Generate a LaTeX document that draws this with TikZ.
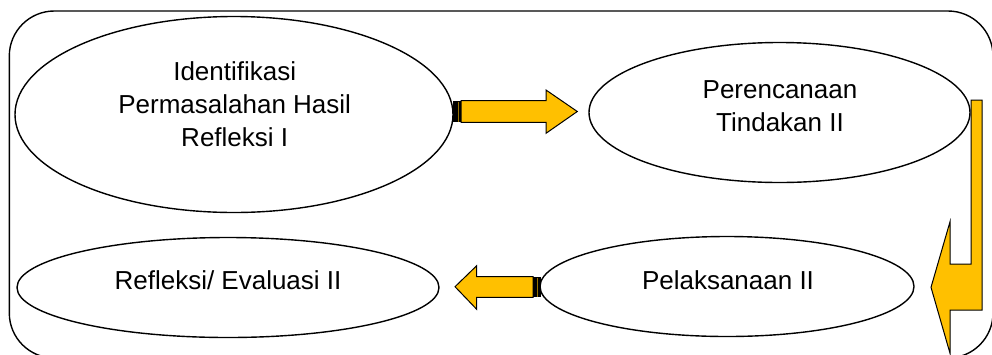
\documentclass[tikz,border=0pt]{standalone}
\usepackage{fontspec}
\setmainfont{Liberation Sans}
\usetikzlibrary{shapes.geometric}
\definecolor{arrowyellow}{HTML}{FFC000}
\begin{document}
\begin{tikzpicture}[x=1pt,y=-1pt,
  oval/.style={draw,ellipse,line width=1.4pt,inner sep=0pt},
  lbl/.style={align=center,font=\fontsize{26}{33}\selectfont,inner sep=0pt},
  blockarrow/.style={fill=arrowyellow,draw=black,line width=1pt,line join=miter},
  band/.style={fill=black}]
\useasboundingbox (0,0) rectangle (992,354);
\begin{scope}
\clip (0,0) rectangle (992,354);
\draw[line width=1.4pt, rounded corners=45pt] (9.3,11) rectangle (993,358);
\end{scope}
% ellipses
\node[oval,minimum width=438pt,minimum height=196pt] (e1) at (234,114.5) {};
\node[oval,minimum width=381pt,minimum height=140pt] (e2) at (779.5,112.5) {};
\node[oval,minimum width=422pt,minimum height=100pt] (e3) at (228,287.5) {};
\node[oval,minimum width=374pt,minimum height=100pt] (e4) at (727,286.5) {};
% labels
\node[lbl] (t1) at (234.7,104.5) {Identifikasi\\Permasalahan Hasil\\Refleksi I};
\node[lbl] (t2) at (780,106) {Perencanaan\\Tindakan II};
\node[lbl,anchor=base] (t3) at (228,289) {Refleksi/ Evaluasi II};
\node[lbl,anchor=base] (t4) at (728,289) {Pelaksanaan II};
% arrow 1 (right)
\draw[blockarrow] (461,100.7) -- (546,100.7) -- (546,90) -- (577.3,111.5) -- (546,133.3) -- (546,122.3) -- (461,122.3) -- cycle;
\fill[band] (452.7,100.7) rectangle (460.7,122.3);
\draw[arrowyellow!60!black,line width=0.8pt] (457.9,101.5) -- (457.9,121.5);
% arrow 2 (bent)
\draw[blockarrow] (971,100) -- (982,100) -- (982,310) -- (950,310) -- (950,353.3) -- (931,287.3) -- (950,221.7) -- (950,264) -- (971,264) -- cycle;
% arrow 3 (left)
\draw[blockarrow] (533,276.7) -- (476.7,276.7) -- (476.7,265.7) -- (455,286.7) -- (476.7,309.3) -- (476.7,297.3) -- (533,297.3) -- cycle;
\fill[band] (533,276.7) rectangle (540.7,297.3);
\draw[arrowyellow!60!black,line width=0.8pt] (537.5,277.5) -- (537.5,296.5);
\end{tikzpicture}
\end{document}
